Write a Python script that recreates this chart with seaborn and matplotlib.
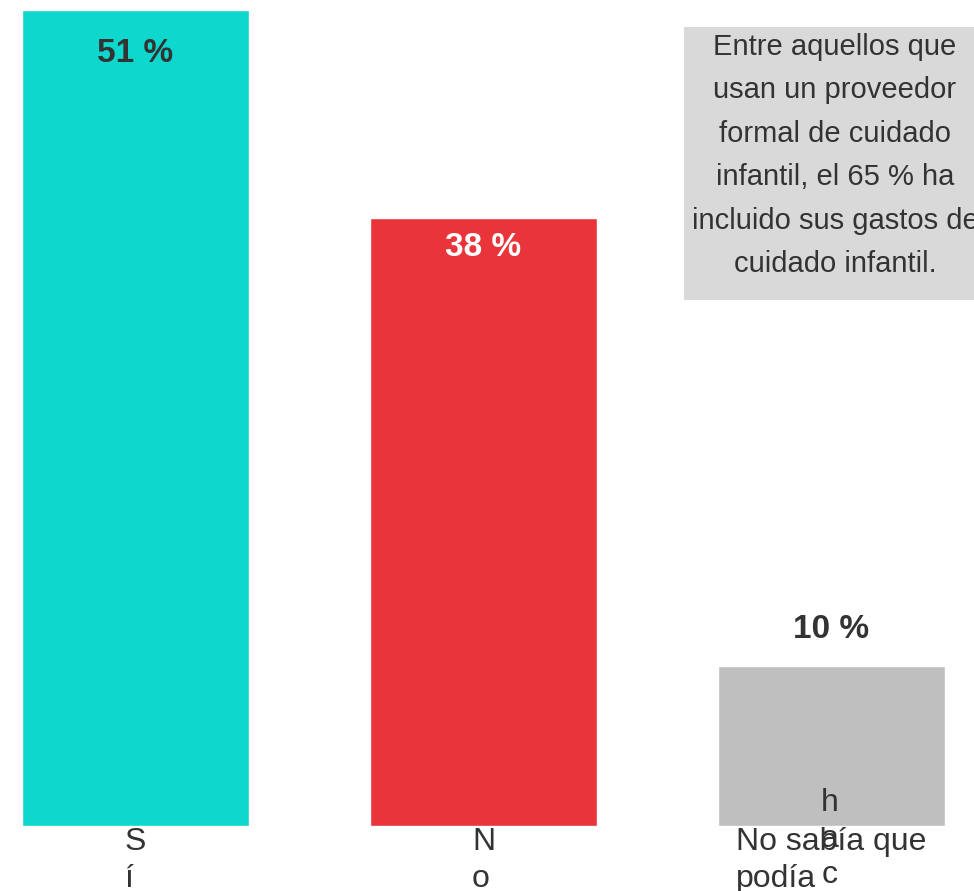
import matplotlib
matplotlib.use("Agg")
import matplotlib.pyplot as plt
import seaborn as sns
import pandas as pd
from matplotlib.patches import Rectangle

# Chart data
categories = ["Sí", "No", "No sabía que podía hacerlo"]
values = [51, 38, 10]
value_labels = ["51 %", "38 %", "10 %"]
tick_labels = ["S\ní", "N\no", "No sabía que\npodía"]
colors = ["#0ED7CE", "#E9343A", "#BFBFBF"]
note_text = ("Entre aquellos que\nusan un proveedor\nformal de cuidado\n"
             "infantil, el 65 % ha\nincluido sus gastos de\ncuidado infantil.")

df = pd.DataFrame({"category": categories, "value": values})

sns.set_style("white")
plt.rcParams["font.family"] = ["Liberation Sans", "DejaVu Sans"]

W, H = 974, 891
fig = plt.figure(figsize=(W / 100, H / 100), dpi=100)
base_px, top_px = 826, 10
ax = fig.add_axes([0, (H - base_px) / H, 1, (base_px - top_px) / H])

sns.barplot(data=df, x="category", y="value", hue="category",
            palette=colors, width=0.652, legend=False, ax=ax, saturation=1)

ax.set_ylim(0, 51)
ax.set_xlim(-135.5 / 348, (W - 135.5) / 348)
sns.despine(ax=ax, left=True, bottom=True, top=True, right=True)
ax.set_yticks([])
ax.set_xlabel("")
ax.set_ylabel("")

# Tick labels (broken wrapping kept as in the original)
ax.set_xticks(range(len(categories)))
ax.set_xticklabels(tick_labels, fontsize=23, color="#333333", linespacing=1.27)
ax.tick_params(axis="x", length=0, pad=1)
for lbl in ax.get_xticklabels():
    lbl.set_multialignment("left")
ax.text(1.995, 51 * (826 - 788) / 816, "h\na\nc", ha="center", va="top",
        fontsize=23, color="#333333", linespacing=1.27)

# Value labels
offsets = [-43, -30, 37]
label_colors = ["#333333", "white", "#333333"]
for i, (v, t) in enumerate(zip(values, value_labels)):
    ax.annotate(t, xy=(i, v), xytext=(0, offsets[i] * 0.72),
                textcoords="offset points", ha="center", va="center",
                fontsize=24, fontweight="bold", color=label_colors[i])

# Note box
fig.patches.append(Rectangle((684 / W, 1 - 300 / H), 320 / W, 273 / H,
                             transform=fig.transFigure, facecolor="#D9D9D9",
                             edgecolor="none", zorder=0))
fig.text(835 / W, 1 - 33 / H, note_text, ha="center", va="top",
         fontsize=21, color="#333333", linespacing=1.70)

fig.savefig("out.png", dpi=100)
